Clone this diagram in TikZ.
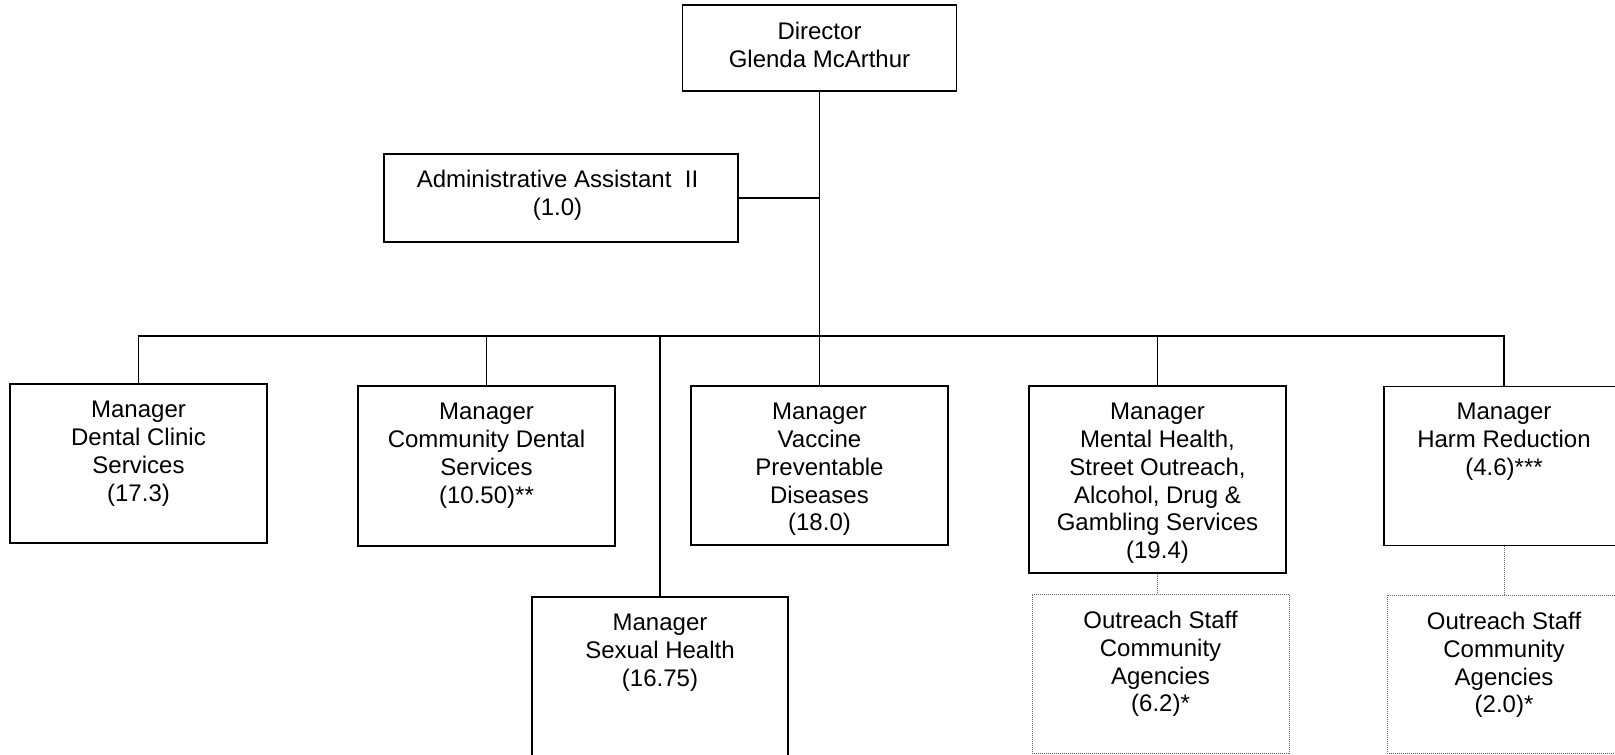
\documentclass[tikz,border=0pt]{standalone}
\usepackage{fontspec}
\setmainfont{Liberation Sans}
\begin{document}
\begin{tikzpicture}[x=1pt,y=-1pt,
  box/.style={draw=black, line width=1.9pt, rectangle, inner sep=0pt},
  dotbox/.style={draw=black!60, line width=0.9pt, dash pattern=on 1pt off 1pt, rectangle, inner sep=0pt},
  txt/.style={align=center, inner sep=0pt, anchor=north, font=\fontsize{24}{27.8}\selectfont},
  wire/.style={line width=1.9pt},
  dotwire/.style={draw=black!60, line width=0.9pt, dash pattern=on 1pt off 1pt}]
\clip (0,0) rectangle (1615,755);
\fill[white] (0,0) rectangle (1615,755);

% boxes
\node[box, minimum width=274pt, minimum height=86pt] (dir) at (819.5,48) {};
\node[box, minimum width=354pt, minimum height=88pt] (adm) at (561,198) {};
\node[box, minimum width=257pt, minimum height=159pt] (dc) at (138.5,463.5) {};
\node[box, minimum width=257pt, minimum height=160pt] (cd) at (486.5,466) {};
\node[box, minimum width=256pt, minimum height=160pt] (sh) at (660,677) {};
\node[box, minimum width=257pt, minimum height=159pt] (vp) at (819.5,465.5) {};
\node[box, minimum width=257pt, minimum height=187pt] (mh) at (1157.5,479.5) {};
\node[box, minimum width=240pt, minimum height=159pt] (hr) at (1504,466) {};
\node[dotbox, minimum width=257pt, minimum height=159pt] (om) at (1160.5,673.5) {};
\node[dotbox, minimum width=234pt, minimum height=158pt] (oh) at (1504,674) {};

% labels
\node[txt] (tdir) at (819.5,22) {Director\\Glenda McArthur};
\node[txt] (tadm) at (557.5,170) {Administrative Assistant~ II\\(1.0)};
\node[txt] (tdc) at (138.5,401) {Manager\\Dental Clinic\\Services\\(17.3)};
\node[txt] (tcd) at (486.5,403) {Manager\\Community Dental\\Services\\(10.50)**};
\node[txt] (tsh) at (660,614) {Manager\\Sexual Health\\(16.75)};
\node[txt] (tvp) at (819.5,403) {Manager\\Vaccine\\Preventable\\Diseases\\(18.0)};
\node[txt] (tmh) at (1157.5,403) {Manager\\Mental Health,\\Street Outreach,\\Alcohol, Drug \&\\Gambling Services\\(19.4)};
\node[txt] (thr) at (1504,403) {Manager\\Harm Reduction\\(4.6)***};
\node[txt] (tom) at (1160.5,611) {Outreach Staff\\Community\\Agencies\\(6.2)*};
\node[txt] (toh) at (1504,612) {Outreach Staff\\Community\\Agencies\\(2.0)*};

% reporting lines
\coordinate (busL) at (dc.north |- 0,336);
\coordinate (busR) at (hr.north |- 0,336);
\draw[wire] (dir.south) -- (vp.north);
\draw[wire] (adm.east) -- (adm.east -| dir.south);
\draw[wire, line cap=rect] (busL) -- (busR);
\draw[wire] (dc.north) -- (busL);
\draw[wire] (cd.north) -- (cd.north |- busL);
\draw[wire] (sh.north) -- (sh.north |- busL);
\draw[wire] (mh.north) -- (mh.north |- busL);
\draw[wire] (hr.north) -- (busR);
\draw[dotwire] (mh.south) -- (mh.south |- om.north);
\draw[dotwire] (hr.south) -- (oh.north);
\end{tikzpicture}
\end{document}
